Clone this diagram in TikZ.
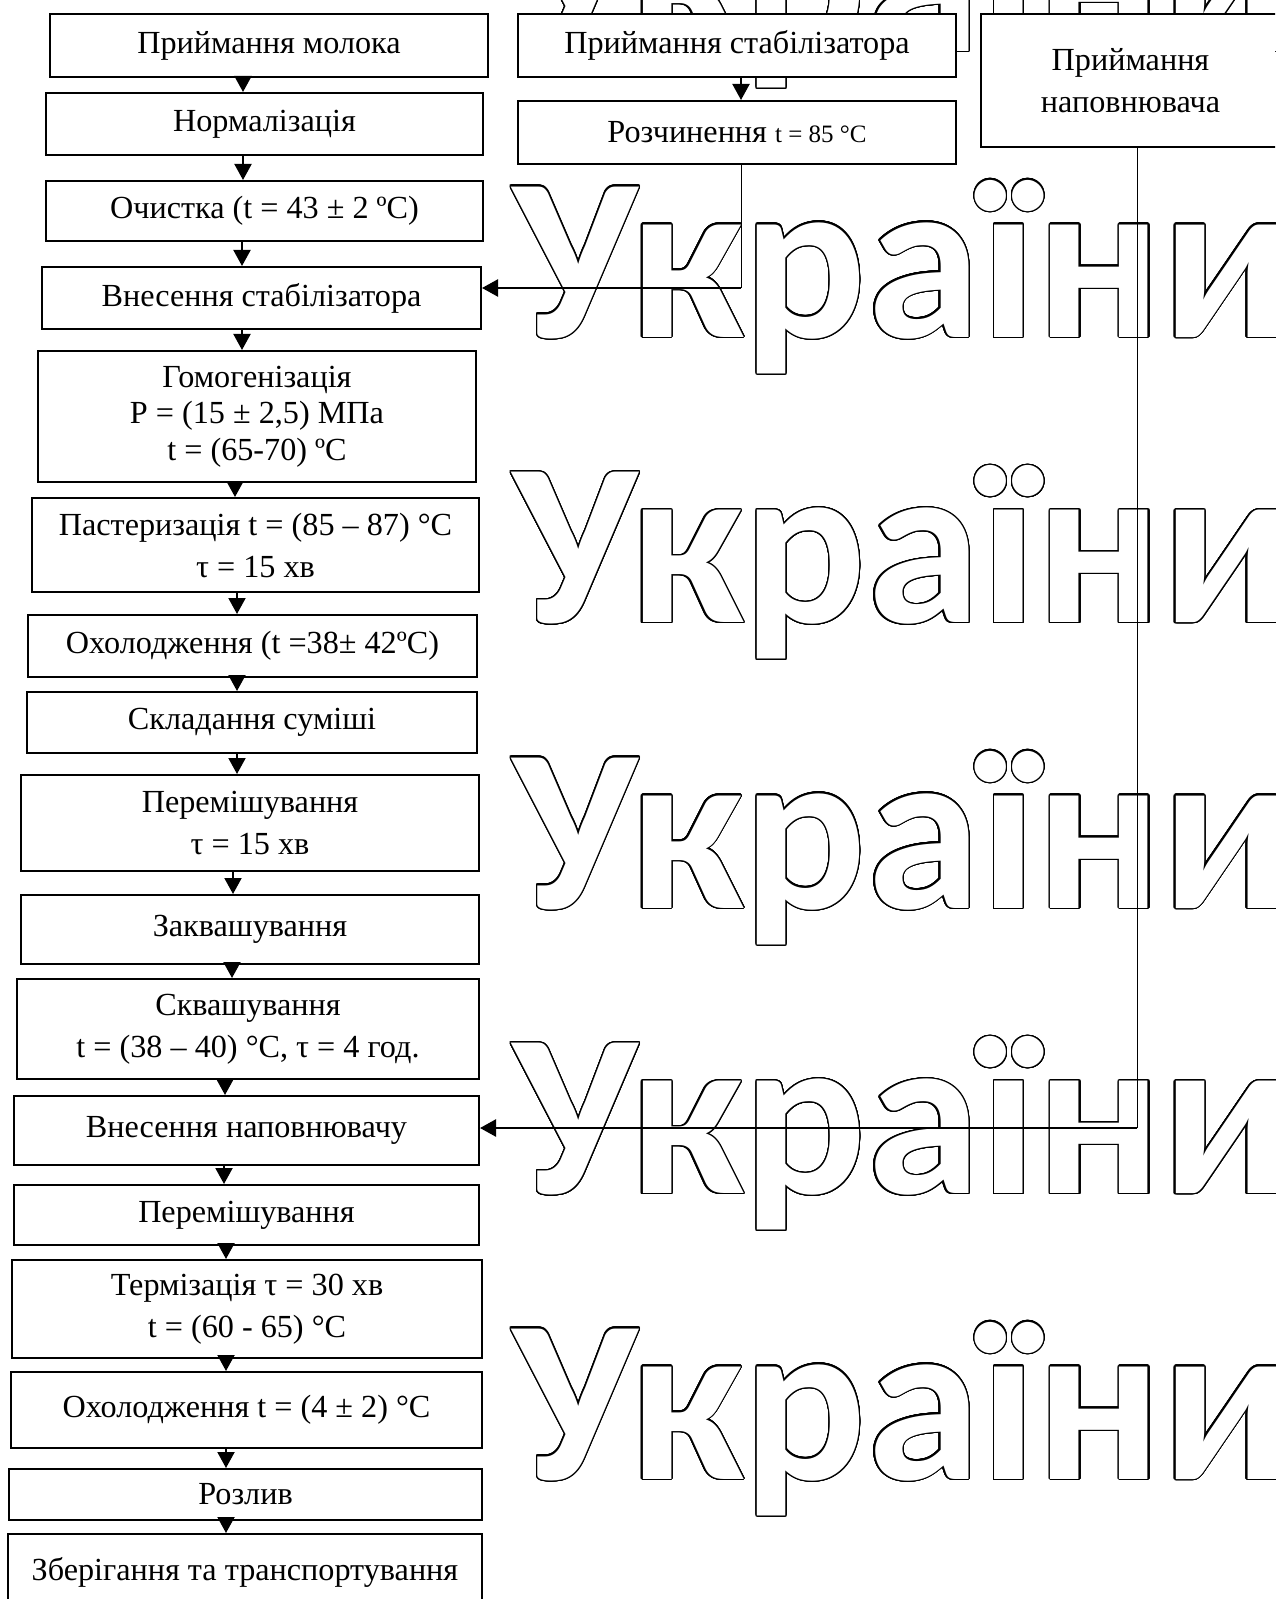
\documentclass[tikz,border=0pt]{standalone}
\usepackage{fontspec}
\setmainfont{Liberation Serif}
\newfontfamily\wmfont{Carlito Bold}
\usepackage{graphicx}
\usepackage{contour}
\contourlength{0.65pt}
\contournumber{32}
\usepackage{tikz}
\usetikzlibrary{arrows.meta,calc}
\newcommand{\wmword}{\scalebox{0.99}[1]{\wmfont\fontsize{116}{116}\selectfont\color{white}\contour{black}{України}}}

\begin{document}
\begin{tikzpicture}[x=0.5pt,y=-0.5pt,
    stepbox/.style={draw,line width=1pt,fill=white,inner sep=0pt,align=center,font=\fontsize{16.1}{21}\selectfont},
    flow/.style={line width=1pt,-{Triangle[width=8.5pt,length=8pt]}},
    inflow/.style={line width=1.2pt,-{Triangle[width=8.5pt,length=8pt]}},
    feed/.style={line width=0.5pt},
    wmark/.style={anchor=base west,inner sep=0pt}]
    \clip (0,0) rectangle (1275,1599);

    % background lettering
    \node[wmark] (wm0) at (512,51.5) {\wmword};
    \node[wmark] (wm1) at (512,337) {\wmword};
    \node[wmark] (wm2) at (512,622.5) {\wmword};
    \node[wmark] (wm3) at (512,908) {\wmword};
    \node[wmark] (wm4) at (512,1193.5) {\wmword};
    \node[wmark] (wm5) at (512,1479) {\wmword};

    % main line
    \node[stepbox,minimum width=219pt,minimum height=31.5pt] (milk) at (269,45.5) {Приймання молока};
    \node[stepbox,minimum width=218.5pt,minimum height=31pt] (norm) at (264.5,124) {Нормалізація};
    \node[stepbox,minimum width=218.5pt,minimum height=30pt] (clean) at (264.5,211) {Очистка (t = 43 ± 2 ºС)};
    \node[stepbox,minimum width=219.5pt,minimum height=31pt] (addstab) at (261.5,298) {Внесення стабілізатора};
    \node[stepbox,minimum width=219pt,minimum height=65.5pt,font=\fontsize{16.1}{18.25}\selectfont] (homog) at (257,416.5) {Гомогенізація\\ Р = (15 ± 2,5) МПа\\ t = (65-70) ºС};
    \node[stepbox,minimum width=223.5pt,minimum height=47pt] (past) at (255.5,545) {Пастеризація t = (85 – 87) °С\\ τ = 15 хв};
    \node[stepbox,minimum width=224.5pt,minimum height=31pt] (cool) at (252.5,646) {Охолодження (t =38± 42ºС)};
    \node[stepbox,minimum width=225pt,minimum height=30.5pt] (mix) at (252,722.5) {Складання суміші};
    \node[stepbox,minimum width=229pt,minimum height=48pt] (stir) at (250,823) {Перемішування\\ τ = 15 хв};
    \node[stepbox,minimum width=229pt,minimum height=34.5pt] (ferm) at (250,929.5) {Заквашування};
    \node[stepbox,minimum width=231pt,minimum height=50pt] (sour) at (248,1029) {Сквашування\\ t = (38 – 40) °С, τ = 4 год.};
    \node[stepbox,minimum width=232.5pt,minimum height=34.5pt] (addfill) at (246.5,1130.5) {Внесення наповнювачу};
    \node[stepbox,minimum width=232.5pt,minimum height=30pt] (stirb) at (246.5,1215) {Перемішування};
    \node[stepbox,minimum width=235pt,minimum height=49pt] (therm) at (247,1309) {Термізація τ = 30 хв\\ t = (60 - 65) °С};
    \node[stepbox,minimum width=235.5pt,minimum height=38pt] (chill) at (246.5,1410) {Охолодження t = (4 ± 2) °С};
    \node[stepbox,minimum width=236.5pt,minimum height=25.5pt] (fill) at (245.5,1494.5) {Розлив};
    \node[stepbox,minimum width=237pt,minimum height=38pt] (store) at (245,1572) {Зберігання та транспортування};

    % side inputs
    \node[stepbox,minimum width=219pt,minimum height=31.5pt] (stabin) at (737,45.5) {Приймання стабілізатора};
    \node[stepbox,minimum width=219pt,minimum height=31.5pt] (dissolve) at (737,132.5) {Розчинення {\fontsize{12.5}{14}\selectfont t = 85 °С}};
    \node[stepbox,minimum width=149.5pt,minimum height=66.5pt] (fillin) at (1130.5,80.5) {Приймання\\ наповнювача};

    \draw[flow] ([xshift=-13pt]milk.south) -- ([xshift=-13pt]milk.south |- norm.north);
    \draw[flow] ([xshift=-10.75pt]norm.south) -- ([xshift=-10.75pt]norm.south |- clean.north);
    \draw[flow] ([xshift=-11.25pt]clean.south) -- ([xshift=-11.25pt]clean.south |- addstab.north);
    \draw[flow] ([xshift=-9.75pt]addstab.south) -- ([xshift=-9.75pt]addstab.south |- homog.north);
    \draw[flow] ([xshift=-11pt]homog.south) -- ([xshift=-11pt]homog.south |- past.north);
    \draw[flow] ([xshift=-9.25pt]past.south) -- ([xshift=-9.25pt]past.south |- cool.north);
    \draw[flow] ([xshift=-7.75pt]cool.south) -- ([xshift=-7.75pt]cool.south |- mix.north);
    \draw[flow] ([xshift=-7.5pt]mix.south) -- ([xshift=-7.5pt]mix.south |- stir.north);
    \draw[flow] ([xshift=-8.5pt]stir.south) -- ([xshift=-8.5pt]stir.south |- ferm.north);
    \draw[flow] ([xshift=-9pt]ferm.south) -- ([xshift=-9pt]ferm.south |- sour.north);
    \draw[flow] ([xshift=-11.5pt]sour.south) -- ([xshift=-11.5pt]sour.south |- addfill.north);
    \draw[flow] ([xshift=-11.25pt]addfill.south) -- ([xshift=-11.25pt]addfill.south |- stirb.north);
    \draw[flow] ([xshift=-10.25pt]stirb.south) -- ([xshift=-10.25pt]stirb.south |- therm.north);
    \draw[flow] ([xshift=-10.5pt]therm.south) -- ([xshift=-10.5pt]therm.south |- chill.north);
    \draw[flow] ([xshift=-10.25pt]chill.south) -- ([xshift=-10.25pt]chill.south |- fill.north);
    \draw[flow] ([xshift=-9.75pt]fill.south) -- ([xshift=-9.75pt]fill.south |- store.north);

    % stabiliser feed
    \coordinate (stabjoin) at (741,288);
    \draw[flow] (stabin.south -| stabjoin) -- (dissolve.north -| stabjoin);
    \draw[feed] (dissolve.south -| stabjoin) -- (stabjoin);
    \draw[inflow] (stabjoin) -- (stabjoin -| addstab.east);

    % filler feed
    \coordinate (filljoin) at (1137,1128);
    \draw[feed] (fillin.south -| filljoin) -- (filljoin);
    \draw[inflow] (filljoin) -- (filljoin -| addfill.east);
\end{tikzpicture}
\end{document}
